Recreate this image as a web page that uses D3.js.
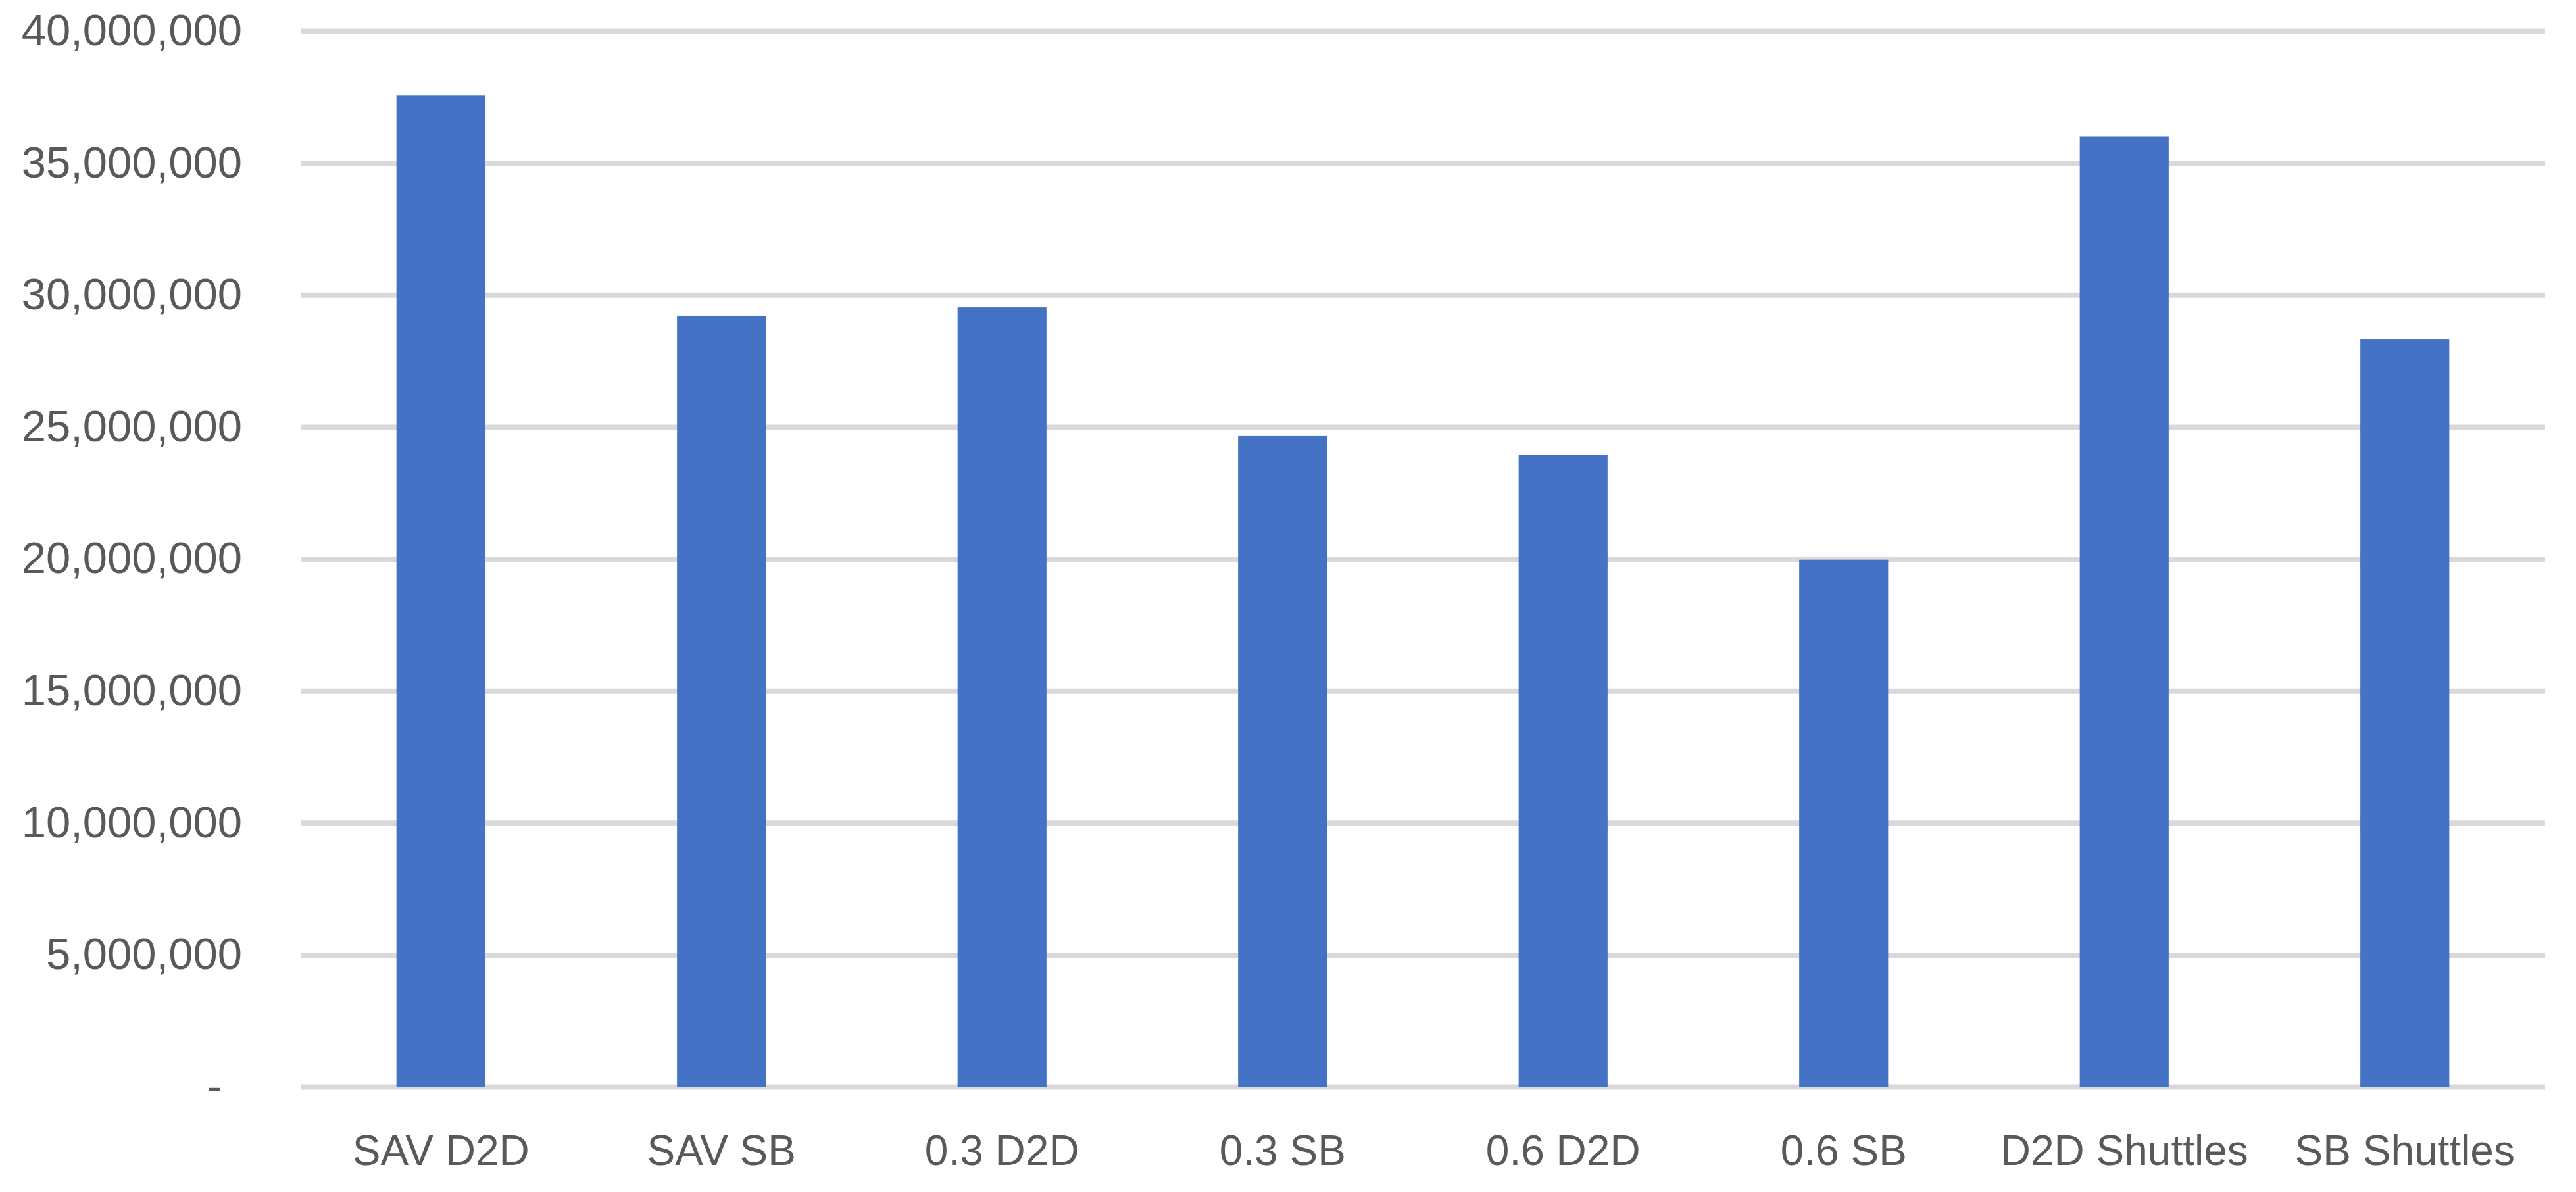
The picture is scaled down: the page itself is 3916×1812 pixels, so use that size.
<!DOCTYPE html>
<html>
<head>
<meta charset="utf-8">
<script src="https://cdn.jsdelivr.net/npm/d3@7"></script>
<style>
  html, body { margin: 0; padding: 0; background: #ffffff; }
  svg { display: block; }
</style>
</head>
<body>
<svg id="chart"></svg>
<script>
// ---- data ----
const categories = ["SAV D2D", "SAV SB", "0.3 D2D", "0.3 SB", "0.6 D2D", "0.6 SB", "D2D Shuttles", "SB Shuttles"];
const values = [37550000, 29210000, 29530000, 24650000, 23950000, 19970000, 36000000, 28310000];
const yTicks = [0, 5000000, 10000000, 15000000, 20000000, 25000000, 30000000, 35000000, 40000000];

// ---- layout ----
const W = 3916, H = 1812;
const margin = { top: 47, right: 47, bottom: 160, left: 457 };
const plotW = W - margin.left - margin.right;
const plotH = H - margin.top - margin.bottom;
const font = "'Liberation Sans', Arial, sans-serif";
const yFontSize = 67;
const xFontSize = 64;
const textColor = "#595959";

const svg = d3.select("#chart").attr("width", W).attr("height", H);
const g = svg.append("g").attr("transform", `translate(${margin.left},${margin.top})`);

const x = d3.scaleBand().domain(categories).range([0, plotW]).padding(0);
const y = d3.scaleLinear().domain([0, 40000000]).range([plotH, 0]);

// y axis with gridlines
const fmt = d3.format(",");
const yAxis = d3.axisLeft(y)
  .tickValues(yTicks)
  .tickSize(-plotW)
  .tickPadding(89)
  .tickFormat(d => d === 0 ? "-" : fmt(d));
const yG = g.append("g").call(yAxis);
yG.select(".domain").remove();
yG.selectAll(".tick line").attr("stroke", "#d9d9d9").attr("stroke-width", 8);
yG.selectAll(".tick text")
  .attr("fill", textColor)
  .style("font-family", font)
  .style("font-size", yFontSize + "px")
  .attr("dx", d => d === 0 ? -31 : 0);

// bars
const barFrac = 0.317;
g.append("g").selectAll("rect")
  .data(categories)
  .join("rect")
  .attr("x", (c) => x(c) + x.bandwidth() * (1 - barFrac) / 2)
  .attr("width", x.bandwidth() * barFrac)
  .attr("y", (c, i) => y(values[i]))
  .attr("height", (c, i) => y(0) - y(values[i]))
  .attr("fill", "#4472c4");

// x axis labels
const xAxis = d3.axisBottom(x).tickSize(0).tickPadding(74);
const xG = g.append("g").attr("transform", `translate(0,${plotH})`).call(xAxis);
xG.select(".domain").remove();
xG.selectAll(".tick text")
  .attr("fill", textColor)
  .style("font-family", font)
  .style("font-size", xFontSize + "px");
</script>
</body>
</html>
